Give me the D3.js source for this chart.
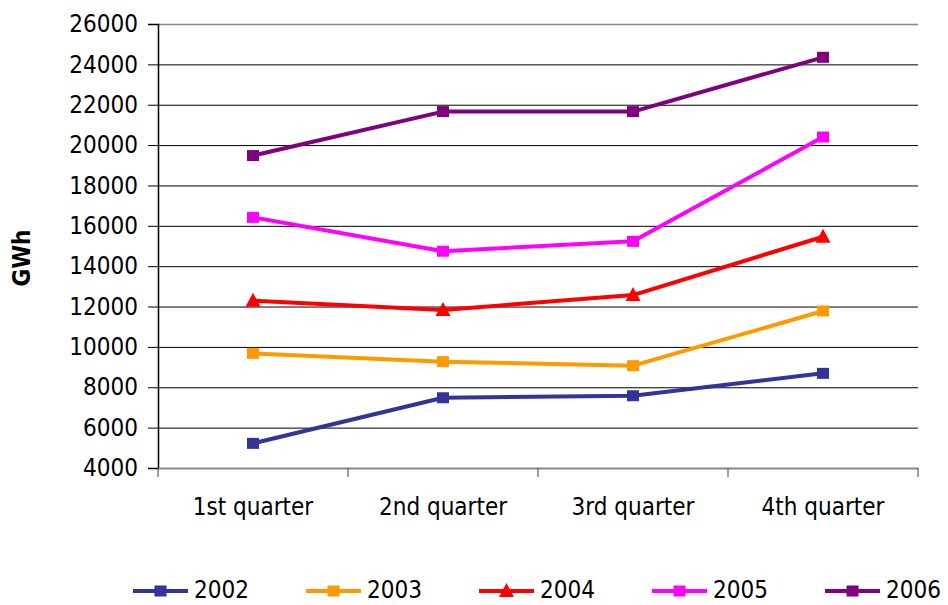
<!DOCTYPE html>
<html><head><meta charset="utf-8">
<script src="https://cdn.jsdelivr.net/npm/d3@7"></script>
<style>
body{margin:0;background:#fff;}
text{font-family:"DejaVu Sans Condensed","DejaVu Sans",sans-serif;font-stretch:condensed;}
</style></head>
<body><svg id="c" width="948" height="605"></svg>
<script>
const categories = ["1st quarter","2nd quarter","3rd quarter","4th quarter"];
const years = ["2002","2003","2004","2005","2006"];
const v2002 = [5220, 7480, 7580, 8690];
const v2003 = [9680, 9270, 9070, 11780];
const v2004 = [12290, 11830, 12570, 15460];
const v2005 = [16420, 14740, 15230, 20400];
const v2006 = [19480, 21660, 21660, 24350];
const yTicks = [4000,6000,8000,10000,12000,14000,16000,18000,20000,22000,24000,26000];
const colors = ["#333399","#FF9900","#FF0000","#FF00FF","#800080"];
const shapes = ["square","square","triangle","square","square"];
const series = [v2002,v2003,v2004,v2005,v2006];

const svg = d3.select("#c");
const L=158, R=918, T=24, B=468;
const x = d3.scaleBand().domain(categories).range([L,R]);
const y = d3.scaleLinear().domain([4000,26000]).range([B,T]);

// gridlines
svg.append("g").selectAll("line").data(yTicks.slice(1)).join("line")
  .attr("x1",L).attr("x2",R).attr("y1",d=>y(d)+0.5).attr("y2",d=>y(d)+0.5)
  .attr("stroke",d=>d===26000?"#888":"#000").attr("stroke-width",d=>d===26000?1.5:1);

// y axis
const ya = svg.append("g").attr("transform",`translate(${L},0)`)
  .call(d3.axisLeft(y).tickValues(yTicks).tickSize(10).tickPadding(10).tickFormat(d3.format("d")));
ya.select(".domain").attr("stroke","#000").attr("stroke-width",1.5);
ya.selectAll(".tick line").attr("stroke","#000");
ya.selectAll("text").attr("font-size",24).attr("fill","#000")
  .style("font-family",'"DejaVu Sans Condensed","DejaVu Sans",sans-serif');

// x axis
const xa = svg.append("g").attr("transform",`translate(0,${B})`)
  .call(d3.axisBottom(x).tickSize(0).tickPadding(30));
xa.select(".domain").attr("stroke","#888").attr("stroke-width",2);
xa.selectAll("text").attr("font-size",24).attr("fill","#000")
  .style("font-family",'"DejaVu Sans Condensed","DejaVu Sans",sans-serif');
svg.append("g").selectAll("line").data(d3.range(categories.length+1)).join("line")
  .attr("x1",i=>L+i*x.step()).attr("x2",i=>L+i*x.step())
  .attr("y1",B).attr("y2",B+9).attr("stroke","#444").attr("stroke-width",1);

// y label
svg.append("text").attr("transform","translate(30,258) rotate(-90)")
  .attr("text-anchor","middle").attr("font-size",24).attr("font-weight","bold")
  .text("GWh");

const cx = d => x(d)+x.bandwidth()/2;
const line = d3.line().x((d,i)=>cx(categories[i])).y(d=>y(d));

function marker(g, shape, color, px, py){
  if(shape==="square"){
    g.append("rect").attr("x",px-6).attr("y",py-5.5).attr("width",12).attr("height",11).attr("fill",color);
  } else {
    g.append("path").attr("d",`M${px},${py-8}L${px+7.5},${py+6}L${px-7.5},${py+6}Z`).attr("fill",color);
  }
}

series.forEach((vals,k)=>{
  const g = svg.append("g");
  g.append("path").datum(vals).attr("d",line).attr("fill","none")
    .attr("stroke",colors[k]).attr("stroke-width",4).attr("stroke-linejoin","round");
  vals.forEach((v,i)=>marker(g,shapes[k],colors[k],cx(categories[i]),y(v)));
});

// legend
const lg = svg.append("g");
years.forEach((yr,k)=>{
  const x0 = 133 + k*173, ly = 591;
  lg.append("line").attr("x1",x0).attr("x2",x0+55).attr("y1",ly).attr("y2",ly)
    .attr("stroke",colors[k]).attr("stroke-width",4);
  marker(lg,shapes[k],colors[k],x0+27.5,ly);
  lg.append("text").attr("x",x0+61).attr("y",ly+7).attr("font-size",24).text(yr);
});
</script></body></html>
